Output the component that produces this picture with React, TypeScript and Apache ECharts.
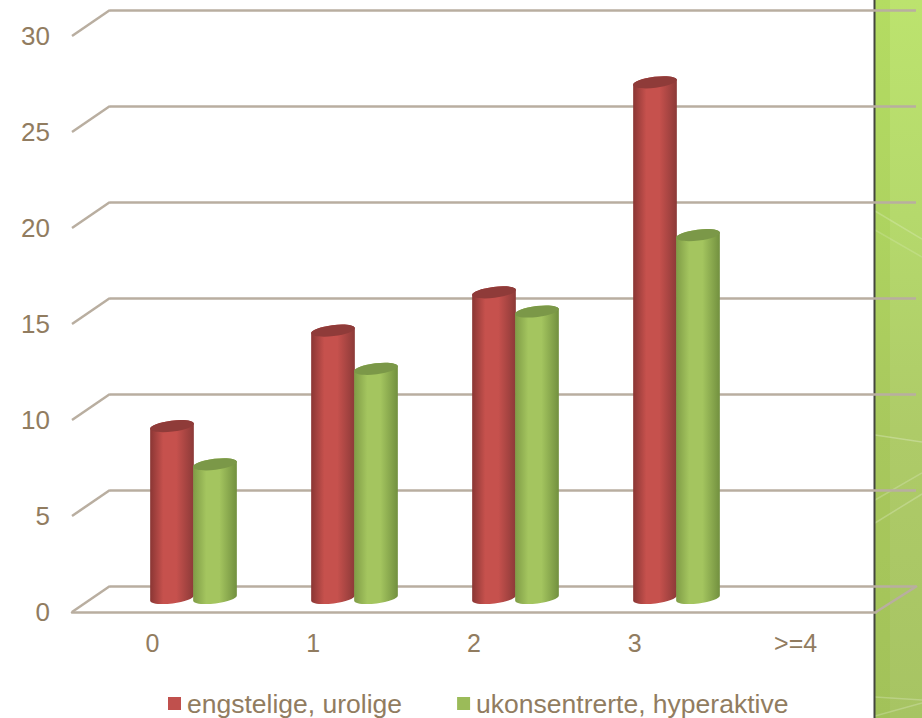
import React, { useEffect, useRef } from "react";
import * as echarts from "echarts";

const categories = ["0", "1", "2", "3", ">=4"];
const anxious = [9, 14, 16, 27, null];
const hyperactive = [7, 12, 15, 19, null];
const seriesNames = ["engstelige, urolige", "ukonsentrerte, hyperaktive"];
const gridTicks = [0, 5, 10, 15, 20, 25, 30];

const FONT = '"Liberation Sans", Arial, sans-serif';
const TEXT = "#917c60";
const RULE = "#b9aea0";

// Offset from the front plane of the floor to the back wall.
const DEPTH_X = 38;
const DEPTH_Y = -26;

const CYL_RX = 22;
const CYL_RY = 5.5;
const TILT_DEG = -7;
const CYL_OFFSET = 21.5;
const KAPPA = 0.5523;

const palette = [
  { edgeL: "#8a3634", mid: "#c6514d", edgeR: "#8c3a38", top: "#8f3b39", legend: "#c0504d" },
  { edgeL: "#7f9c46", mid: "#a4c55f", edgeR: "#72903f", top: "#7b9848", legend: "#9bbb59" },
];

// Point on a tilted ellipse, given in its own major/minor axis units.
function tilted(cx: number, cy: number, u: number, v: number) {
  const t = (TILT_DEG * Math.PI) / 180;
  const x = cx + u * CYL_RX * Math.cos(t) - v * CYL_RY * Math.sin(t);
  const y = cy + u * CYL_RX * Math.sin(t) + v * CYL_RY * Math.cos(t);
  return `${x} ${y}`;
}

// Half of the ellipse from its left end to its right end; side is -1 above, +1 below.
function halfArc(cx: number, cy: number, side: number) {
  const p = (u: number, v: number) => tilted(cx, cy, u, v * side);
  return `C ${p(-1, KAPPA)} ${p(-KAPPA, 1)} ${p(0, 1)} C ${p(KAPPA, 1)} ${p(1, KAPPA)} ${p(1, 0)}`;
}

// The same half, walked from the right end back to the left end.
function halfArcBack(cx: number, cy: number, side: number) {
  const p = (u: number, v: number) => tilted(cx, cy, u, v * side);
  return `C ${p(1, KAPPA)} ${p(KAPPA, 1)} ${p(0, 1)} C ${p(-KAPPA, 1)} ${p(-1, KAPPA)} ${p(-1, 0)}`;
}

function cylinder(seriesIndex: number) {
  const c = palette[seriesIndex];
  const sign = seriesIndex === 0 ? -1 : 1;
  return (params: any, api: any) => {
    const v = api.value(1);
    if (v === null || v === undefined || isNaN(v)) return null;
    const base = api.coord([api.value(0), 0]);
    const top = api.coord([api.value(0), v]);
    const cx = base[0] + sign * CYL_OFFSET;
    const body =
      `M ${tilted(cx, top[1], -1, 0)} L ${tilted(cx, base[1], -1, 0)} ` +
      `${halfArc(cx, base[1], 1)} L ${tilted(cx, top[1], 1, 0)} ` +
      `${halfArcBack(cx, top[1], -1)} Z`;
    const cap =
      `M ${tilted(cx, top[1], -1, 0)} ${halfArc(cx, top[1], -1)} ` +
      `${halfArcBack(cx, top[1], 1)} Z`;
    return {
      type: "group",
      children: [
        {
          type: "path",
          shape: { pathData: body },
          style: {
            fill: new echarts.graphic.LinearGradient(0, 0, 1, 0, [
              { offset: 0, color: c.edgeL },
              { offset: 0.3, color: c.mid },
              { offset: 0.6, color: c.mid },
              { offset: 1, color: c.edgeR },
            ]),
          },
        },
        { type: "path", shape: { pathData: cap }, style: { fill: c.top } },
      ],
    };
  };
}

// One slanted rule per value tick, joining the front plane to the back wall.
function depthRule(params: any, api: any) {
  const p = api.coord([0, api.value(0)]);
  const left = p[0] - api.size([1, 0])[0] / 2;
  return {
    type: "line",
    shape: { x1: left, y1: p[1], x2: left + DEPTH_X, y2: p[1] + DEPTH_Y },
    style: { stroke: RULE, lineWidth: 2.5 },
  };
}

// The right-hand edge of the floor.
function floorEdge(params: any, api: any) {
  const p = api.coord([api.value(0), 0]);
  const right = p[0] + api.size([1, 0])[0] / 2;
  return {
    type: "line",
    shape: { x1: right, y1: p[1], x2: right + DEPTH_X + 3, y2: p[1] + DEPTH_Y },
    style: { stroke: RULE, lineWidth: 2.5 },
  };
}

function sidePanel() {
  const x = 875;
  const w = 47;
  const streak = (pts: number[][], o: number) => ({
    type: "polyline",
    z: -1,
    shape: { points: pts },
    style: { stroke: "#ffffff", opacity: o, lineWidth: 1.5, fill: "none" },
  });
  return [
    {
      type: "rect",
      z: -3,
      shape: { x, y: 0, width: w, height: 718 },
      style: {
        fill: new echarts.graphic.LinearGradient(0, 0, 0, 1, [
          { offset: 0, color: "#bce36e" },
          { offset: 0.3, color: "#b5d96c" },
          { offset: 0.6, color: "#aecb68" },
          { offset: 1, color: "#a7c463" },
        ]),
      },
    },
    {
      type: "rect",
      z: -2,
      shape: { x, y: 0, width: 15, height: 718 },
      style: { fill: "#8fbf2a", opacity: 0.18 },
    },
    streak([[875, 211], [922, 239]], 0.2),
    streak([[875, 230], [922, 257]], 0.15),
    streak([[875, 435], [922, 442]], 0.25),
    streak([[875, 500], [922, 473]], 0.2),
    streak([[875, 523], [922, 494]], 0.22),
    streak([[875, 697], [922, 700]], 0.22),
    streak([[875, 716], [922, 703]], 0.22),
    {
      type: "rect",
      z: -1,
      shape: { x: 873.5, y: 0, width: 2, height: 718 },
      style: { fill: "#43463f" },
    },
  ];
}

export default function App() {
  const ref = useRef<HTMLDivElement>(null);

  useEffect(() => {
    document.body.style.margin = "0";
    const chart = echarts.init(ref.current!, null, { renderer: "svg" });
    const hiddenX = (gridIndex: number) => ({
      type: "category" as const,
      gridIndex,
      data: categories,
      axisLine: { show: false },
      axisTick: { show: false },
      axisLabel: { show: false },
    });
    const hiddenY = (gridIndex: number, splitLine: boolean) => ({
      type: "value" as const,
      gridIndex,
      min: 0,
      max: 30,
      interval: 5,
      axisLine: { show: false },
      axisTick: { show: false },
      axisLabel: { show: false },
      splitLine: { show: splitLine, lineStyle: { color: RULE, width: 2.5 } },
    });
    chart.setOption({
      animation: false,
      backgroundColor: "#ffffff",
      graphic: { elements: sidePanel() },
      legend: {
        left: 168,
        top: 690,
        padding: 0,
        icon: "rect",
        itemWidth: 13,
        itemHeight: 13,
        itemGap: 55,
        data: seriesNames,
        textStyle: { color: TEXT, fontFamily: FONT, fontSize: 26.5, padding: [0, 0, 0, 1] },
      },
      grid: [
        // back wall
        { left: 110, width: 806, top: 10, height: 576 },
        // front plane of the floor: carries the labels
        { left: 72, width: 804, top: 36, height: 576 },
        // middle plane: the cylinders stand here
        { left: 113, width: 805, top: 25, height: 573 },
      ],
      xAxis: [
        hiddenX(0),
        {
          type: "category",
          gridIndex: 1,
          data: categories,
          axisLine: { show: true, lineStyle: { color: RULE, width: 2.5 } },
          axisTick: { show: false },
          axisLabel: {
            color: TEXT,
            fontFamily: FONT,
            fontSize: 25,
            margin: 18,
          },
        },
        hiddenX(2),
      ],
      yAxis: [
        hiddenY(0, true),
        {
          type: "value",
          gridIndex: 1,
          min: 0,
          max: 30,
          interval: 5,
          axisLine: { show: false },
          axisTick: { show: false },
          splitLine: { show: false },
          axisLabel: {
            color: TEXT,
            fontFamily: FONT,
            fontSize: 26,
            margin: 22,
            padding: [2, 0, 0, 0],
          },
        },
        hiddenY(2, false),
      ],
      series: [
        {
          type: "custom",
          name: "depth",
          xAxisIndex: 1,
          yAxisIndex: 1,
          silent: true,
          z: 1,
          clip: false,
          data: gridTicks.map((t) => [t]),
          encode: { y: 0 },
          renderItem: depthRule,
        },
        {
          type: "custom",
          name: "floor",
          xAxisIndex: 1,
          yAxisIndex: 1,
          silent: true,
          z: 1,
          clip: false,
          data: [[categories.length - 1]],
          encode: { x: 0 },
          renderItem: floorEdge,
        },
        {
          type: "custom",
          name: seriesNames[0],
          xAxisIndex: 2,
          yAxisIndex: 2,
          z: 3,
          clip: false,
          itemStyle: { color: palette[0].legend },
          data: anxious.map((v, i) => [i, v]),
          encode: { x: 0, y: 1 },
          renderItem: cylinder(0),
        },
        {
          type: "custom",
          name: seriesNames[1],
          xAxisIndex: 2,
          yAxisIndex: 2,
          z: 4,
          clip: false,
          itemStyle: { color: palette[1].legend },
          data: hyperactive.map((v, i) => [i, v]),
          encode: { x: 0, y: 1 },
          renderItem: cylinder(1),
        },
      ],
    });
    return () => chart.dispose();
  }, []);

  return <div ref={ref} style={{ width: 922, height: 718 }} />;
}
